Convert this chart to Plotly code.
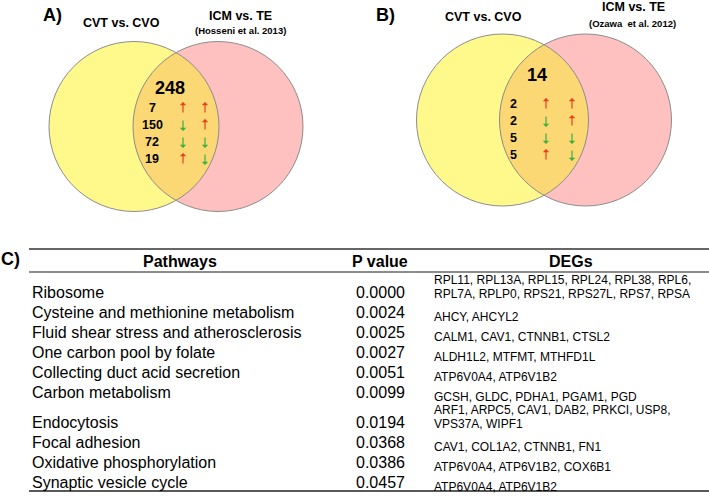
import numpy as np
import plotly.graph_objects as go

# ---------------- data ----------------
A_LABEL = "A)"
A_LEFT_TITLE = "CVT vs. CVO"
A_RIGHT_TITLE = "ICM vs. TE"
A_RIGHT_REF = "(Hosseni et al. 2013)"
A_TOTAL = 248
A_COUNTS = [7, 150, 72, 19]
A_CVT_DIR = ["up", "down", "down", "up"]
A_ICM_DIR = ["up", "up", "down", "down"]

B_LABEL = "B)"
B_LEFT_TITLE = "CVT vs. CVO"
B_RIGHT_TITLE = "ICM vs. TE"
B_RIGHT_REF = "(Ozawa&nbsp; et al. 2012)"
B_TOTAL = 14
B_COUNTS = [2, 2, 5, 5]
B_CVT_DIR = ["up", "down", "down", "up"]
B_ICM_DIR = ["up", "up", "down", "down"]

C_LABEL = "C)"
HEADERS = ["Pathways", "P value", "DEGs"]
PATHWAYS = [
    "Ribosome",
    "Cysteine and methionine metabolism",
    "Fluid shear stress and atherosclerosis",
    "One carbon pool by folate",
    "Collecting duct acid secretion",
    "Carbon metabolism",
    "Endocytosis",
    "Focal adhesion",
    "Oxidative phosphorylation",
    "Synaptic vesicle cycle",
]
P_VALUES = [0.0000, 0.0024, 0.0025, 0.0027, 0.0051, 0.0099, 0.0194, 0.0368, 0.0386, 0.0457]
DEGS = [
    ["RPL11", "RPL13A", "RPL15", "RPL24", "RPL38", "RPL6", "RPL7A", "RPLP0", "RPS21", "RPS27L", "RPS7", "RPSA"],
    ["AHCY", "AHCYL2"],
    ["CALM1", "CAV1", "CTNNB1", "CTSL2"],
    ["ALDH1L2", "MTFMT", "MTHFD1L"],
    ["ATP6V0A4", "ATP6V1B2"],
    ["GCSH", "GLDC", "PDHA1", "PGAM1", "PGD"],
    ["ARF1", "ARPC5", "CAV1", "DAB2", "PRKCI", "USP8", "VPS37A", "WIPF1"],
    ["CAV1", "COL1A2", "CTNNB1", "FN1"],
    ["ATP6V0A4", "ATP6V1B2", "COX6B1"],
    ["ATP6V0A4", "ATP6V1B2"],
]
GENES_PER_LINE = 6

# ---------------- style ----------------
W, H = 709, 496
ARIAL = "Liberation Sans, Arial, sans-serif"
NARROW = "Liberation Sans Narrow, Arial Narrow, Liberation Sans, Arial, sans-serif"
NARROW_SIZE = 12.5
YELLOW = "#FFF98C"
PINK = "#FFC0C0"
OVERLAP = "#FBD873"
EDGE = "#8C8C8C"
RED = "#E8401E"
GREEN = "#3DAF45"

fig = go.Figure()
fig.add_trace(go.Scatter(x=[None], y=[None], mode="markers", showlegend=False, hoverinfo="skip"))

shapes = []
annotations = []


def txt(x, y, text, size, family=ARIAL, bold=False, xanchor="center", color="black"):
    annotations.append(dict(
        x=x, y=y, xref="x", yref="y", text=text, showarrow=False,
        xanchor=xanchor, yanchor="middle",
        font=dict(family=family, size=size, color=color, weight="bold" if bold else "normal"),
    ))


def arrow(x, yc, direction, length=12):
    color = RED if direction == "up" else GREEN
    if direction == "up":
        hy, ay = yc - length / 2, length
    else:
        hy, ay = yc + length / 2, -length
    annotations.append(dict(
        x=x, y=hy, xref="x", yref="y", ax=0, ay=ay, text="", showarrow=True,
        arrowhead=1, arrowsize=0.9, arrowwidth=1.2, arrowcolor=color, standoff=0, startstandoff=0,
    ))


def lens_path(cx1, cx2, cy, r, n=60):
    d = cx2 - cx1
    th = np.arccos((d / 2) / r)
    a1 = np.linspace(-th, th, n)                 # left circle, right-hand arc
    a2 = np.linspace(np.pi - th, np.pi + th, n)  # right circle, left-hand arc
    pts1 = [(cx1 + r * np.cos(a), cy + r * np.sin(a)) for a in a1]
    pts2 = [(cx2 + r * np.cos(a), cy + r * np.sin(a)) for a in a2]
    pts = pts1 + pts2
    return "M %.2f,%.2f " % pts[0] + " ".join("L %.2f,%.2f" % q for q in pts[1:]) + " Z"


def venn(cx1, cx2, cy, r, label, lab_xy, left_title, lt_xy, right_title, rt_xy, ref, ref_xy,
         total, total_xy, counts, dir1, dir2, num_x, row_y0, row_step, ax1, ax2):
    shapes.append(dict(type="circle", xref="x", yref="y", x0=cx1 - r, x1=cx1 + r, y0=cy - r, y1=cy + r,
                       fillcolor=YELLOW, line=dict(width=0), layer="below"))
    shapes.append(dict(type="circle", xref="x", yref="y", x0=cx2 - r, x1=cx2 + r, y0=cy - r, y1=cy + r,
                       fillcolor=PINK, line=dict(width=0), layer="below"))
    shapes.append(dict(type="path", xref="x", yref="y", path=lens_path(cx1, cx2, cy, r),
                       fillcolor=OVERLAP, line=dict(width=0), layer="below"))
    for c in (cx1, cx2):
        shapes.append(dict(type="circle", xref="x", yref="y", x0=c - r, x1=c + r, y0=cy - r, y1=cy + r,
                           fillcolor="rgba(0,0,0,0)", line=dict(width=1, color=EDGE), layer="below"))
    txt(*lab_xy, label, 18, ARIAL, True)
    txt(*lt_xy, left_title, NARROW_SIZE, NARROW, True)
    txt(*rt_xy, right_title, NARROW_SIZE, NARROW, True)
    txt(*ref_xy, ref, 9.5, NARROW, True)
    txt(*total_xy, str(total), 18, ARIAL, True)
    for i, (n, d1, d2) in enumerate(zip(counts, dir1, dir2)):
        y = row_y0 + i * row_step
        txt(num_x, y, str(n), NARROW_SIZE, NARROW, True)
        arrow(ax1, y, d1)
        arrow(ax2, y, d2)


venn(134, 218, 126.5, 85, A_LABEL, (52, 15), A_LEFT_TITLE, (121, 23), A_RIGHT_TITLE, (240, 16),
     A_RIGHT_REF, (240, 30), A_TOTAL, (170, 88), A_COUNTS, A_CVT_DIR, A_ICM_DIR,
     152, 108, 17, 183, 205)
venn(502.5, 585.5, 120, 86, B_LABEL, (385, 15), B_LEFT_TITLE, (483, 17), B_RIGHT_TITLE, (633, 7),
     B_RIGHT_REF, (632, 23), B_TOTAL, (537, 75), B_COUNTS, B_CVT_DIR, B_ICM_DIR,
     513, 104, 17, 546, 572)

# ---------------- table ----------------
T_X0, T_X1 = 29, W
shapes.append(dict(type="line", xref="x", yref="y", x0=T_X0, x1=T_X1, y0=249, y1=249,
                   line=dict(color="#666666", width=2)))
shapes.append(dict(type="line", xref="x", yref="y", x0=T_X0, x1=T_X1, y0=272, y1=272,
                   line=dict(color="#666666", width=1.5)))
shapes.append(dict(type="line", xref="x", yref="y", x0=T_X0, x1=T_X1, y0=491, y1=491,
                   line=dict(color="#222222", width=1.5)))

txt(10, 259, C_LABEL, 18, ARIAL, True)
for h, hx in zip(HEADERS, (180, 380, 571)):
    txt(hx, 261, h, 16, ARIAL, True)

ROW_Y0, ROW_STEP, EXTRA_LINE = 292, 20, 10
extra = 0
for i, (pw, pv, genes) in enumerate(zip(PATHWAYS, P_VALUES, DEGS)):
    lines = [genes[k:k + GENES_PER_LINE] for k in range(0, len(genes), GENES_PER_LINE)]
    if i > 0:
        extra += EXTRA_LINE * (len(lines) - 1)
    y = ROW_Y0 + ROW_STEP * i + extra
    txt(T_X0 + 1, y, pw, 16, ARIAL, False, xanchor="left")
    txt(380, y, "%.4f" % pv, 16, ARIAL, False)
    if len(lines) == 1:
        txt(432, y + 5, ", ".join(lines[0]), 12, ARIAL, False, xanchor="left")
    else:
        for j, ln in enumerate(lines):
            s = ", ".join(ln) + ("," if j < len(lines) - 1 else "")
            txt(432, y + 2 - 14.5 * (len(lines) - 1 - j), s, 12, ARIAL, False, xanchor="left")

fig.update_layout(
    width=W, height=H, margin=dict(l=0, r=0, t=0, b=0),
    paper_bgcolor="white", plot_bgcolor="white",
    xaxis=dict(range=[0, W], visible=False, fixedrange=True),
    yaxis=dict(range=[H, 0], visible=False, fixedrange=True),
    shapes=shapes, annotations=annotations, showlegend=False,
)
fig.write_html(
    "out.html",
    config={"displayModeBar": False, "staticPlot": True},
    post_script="document.body.style.margin='0';document.body.style.overflow='hidden';",
)
